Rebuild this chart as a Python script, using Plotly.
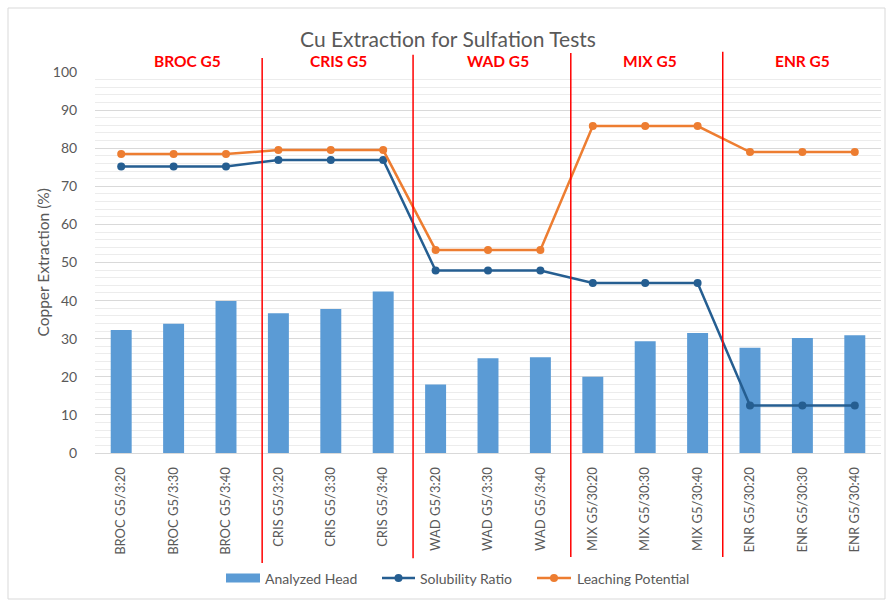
import plotly.graph_objects as go

# Test labels (x categories)
categories = [
    "BROC G5/3:20", "BROC G5/3:30", "BROC G5/3:40",
    "CRIS G5/3:20", "CRIS G5/3:30", "CRIS G5/3:40",
    "WAD G5/3:20", "WAD G5/3:30", "WAD G5/3:40",
    "MIX G5/30:20", "MIX G5/30:30", "MIX G5/30:40",
    "ENR G5/30:20", "ENR G5/30:30", "ENR G5/30:40",
]

# Series values (%)
analyzed_head = [32.3, 33.9, 39.9, 36.7, 37.8, 42.4, 18.0, 24.9, 25.1,
                 20.0, 29.3, 31.5, 27.6, 30.2, 30.9]
solubility_ratio = [75.2, 75.2, 75.2, 76.9, 76.9, 76.9, 47.9, 47.9, 47.9,
                    44.6, 44.6, 44.6, 12.5, 12.5, 12.5]
leaching_potential = [78.5, 78.5, 78.5, 79.5, 79.5, 79.5, 53.3, 53.3, 53.3,
                      85.8, 85.8, 85.8, 79.0, 79.0, 79.0]

series_names = ["Analyzed Head", "Solubility Ratio", "Leaching Potential"]

# Sample groups and their header labels
group_names = ["BROC G5", "CRIS G5", "WAD G5", "MIX G5", "ENR G5"]
group_label_x = [1.27, 4.14, 7.19, 10.09, 13.01]
separator_x = [2.69, 5.57, 8.58, 11.48]
separator_top = [1.037, 1.045, 1.050, 1.053]
separator_bottom = [-0.289, -0.276, -0.273, -0.273]

y_ticks = [0, 10, 20, 30, 40, 50, 60, 70, 80, 90, 100]

FONT = "Lato"
GREY = "#595959"
BAR_BLUE = "#5B9BD5"
DARK_BLUE = "#255E91"
ORANGE = "#ED7D31"

# Plot-area geometry in pixels (used to place paper-referenced decorations)
PL, PW, PB, PH = 95, 786, 453, 381


def px_x(px):
    return (px - PL) / PW


def px_y(py):
    return (PB - py) / PH


fig = go.Figure()

fig.add_trace(go.Bar(
    x=categories, y=analyzed_head, name=series_names[0],
    marker=dict(color=BAR_BLUE, line=dict(width=0)),
))
fig.add_trace(go.Scatter(
    x=categories, y=solubility_ratio, name=series_names[1],
    mode="lines+markers",
    line=dict(color=DARK_BLUE, width=2.5),
    marker=dict(color=DARK_BLUE, size=8),
))
fig.add_trace(go.Scatter(
    x=categories, y=leaching_potential, name=series_names[2],
    mode="lines+markers",
    line=dict(color=ORANGE, width=2.5),
    marker=dict(color=ORANGE, size=8),
))

# Red separators between sample groups
for xs, yt, yb in zip(separator_x, separator_top, separator_bottom):
    fig.add_shape(type="line", xref="x", yref="paper",
                  x0=xs, x1=xs, y0=yb, y1=yt,
                  line=dict(color="#FF0000", width=1.5), layer="above")

# Group headers
for name, gx in zip(group_names, group_label_x):
    fig.add_annotation(x=gx, y=1.028, xref="x", yref="paper",
                       text="<b>" + name + "</b>", showarrow=False,
                       font=dict(family=FONT, size=15.5, color="#FF0000"),
                       xanchor="center", yanchor="middle")

# Y axis title
fig.add_annotation(x=px_x(42), y=0.5, xref="paper", yref="paper",
                   text="Copper Extraction (%)", textangle=-90, showarrow=False,
                   font=dict(family=FONT, size=15.5, color=GREY),
                   xanchor="center", yanchor="middle")

# Legend row, laid out like a spreadsheet chart legend
LEG_Y = 578
fig.add_shape(type="rect", xref="paper", yref="paper",
              x0=px_x(226), x1=px_x(260), y0=px_y(582.5), y1=px_y(573.5),
              fillcolor=BAR_BLUE, line=dict(width=0))
for (x0, x1), color in zip([(382, 415), (537, 571)], [DARK_BLUE, ORANGE]):
    fig.add_shape(type="line", xref="paper", yref="paper",
                  x0=px_x(x0), x1=px_x(x1), y0=px_y(LEG_Y), y1=px_y(LEG_Y),
                  line=dict(color=color, width=2.5))
    cx = (x0 + x1) / 2
    fig.add_shape(type="circle", xref="paper", yref="paper",
                  x0=px_x(cx - 4), x1=px_x(cx + 4),
                  y0=px_y(LEG_Y + 4), y1=px_y(LEG_Y - 4),
                  fillcolor=color, line=dict(width=0))
for name, tx in zip(series_names, [263, 418, 575]):
    fig.add_annotation(x=px_x(tx), y=px_y(LEG_Y), xref="paper", yref="paper",
                       text=name, showarrow=False,
                       font=dict(family=FONT, size=14, color=GREY),
                       xanchor="left", yanchor="middle")

# Chart frame
fig.add_shape(type="rect", xref="paper", yref="paper",
              x0=px_x(8), x1=px_x(885), y0=px_y(599), y1=px_y(8),
              line=dict(color="#D9D9D9", width=1), layer="below")

fig.update_layout(
    width=887, height=601,
    margin=dict(l=95, r=6, t=72, b=148),
    paper_bgcolor="white", plot_bgcolor="white",
    font=dict(family=FONT, color=GREY),
    title=dict(text="Cu Extraction for Sulfation Tests",
               x=0.505, xanchor="center", y=1 - 40 / 601, yanchor="middle",
               font=dict(family=FONT, size=21, color=GREY)),
    bargap=0.6,
    showlegend=False,
    xaxis=dict(
        type="category", tickangle=-90,
        tickfont=dict(family=FONT, size=13, color=GREY),
        showgrid=False, showline=False, zeroline=False,
        ticks="outside", ticklen=8, tickcolor="rgba(0,0,0,0)",
        range=[-0.5, 14.5],
    ),
    yaxis=dict(
        range=[0, 100], tickvals=y_ticks,
        tickfont=dict(family=FONT, size=14, color=GREY),
        showgrid=True, gridcolor="#D9D9D9", gridwidth=1,
        minor=dict(dtick=2, showgrid=True, gridcolor="#ECECEC", gridwidth=1),
        zeroline=True, zerolinecolor="#D9D9D9", zerolinewidth=1,
        showline=False,
        ticks="outside", ticklen=14, tickcolor="rgba(0,0,0,0)",
    ),
)

fig.write_html("out.html")
